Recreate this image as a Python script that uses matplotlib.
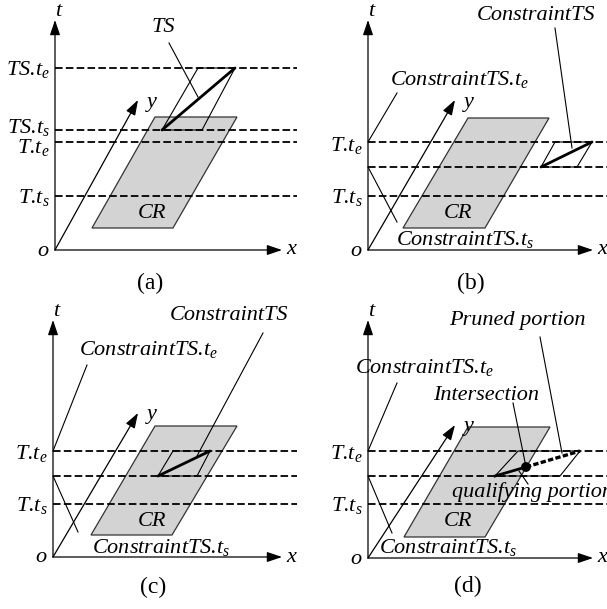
import matplotlib
matplotlib.use('Agg')
import matplotlib.pyplot as plt
from matplotlib.patches import Polygon, Circle

plt.rcParams['font.family'] = 'Liberation Serif'
plt.rcParams['mathtext.fontset'] = 'custom'
plt.rcParams['mathtext.it'] = 'Liberation Serif:italic'
plt.rcParams['mathtext.rm'] = 'Liberation Serif'

# --- geometry of the four panels (pixel space, y grows downward) ---
origins = [(55, 250), (368, 250), (53, 557), (368, 558)]
t_tips = [(55, 20), (368, 20), (53, 320), (368, 320)]
x_tips = [(282, 250), (593, 250), (282, 557), (593, 558)]
y_tips = [(138, 100), (455, 100), (138, 413), (455, 425)]
dash_end = [297, 607, 297, 607]
dash_levels = [[68, 130, 142, 196], [142, 167, 196], [451, 476, 504], [451, 476, 504]]
level_labels = [
    ['TS.t$_e$', 'TS.t$_s$', 'T.t$_e$', 'T.t$_s$'],
    ['T.t$_e$', None, 'T.t$_s$'],
    ['T.t$_e$', None, 'T.t$_s$'],
    ['T.t$_e$', None, 'T.t$_s$'],
]
label_shift = [[1, -3, 5, 1], [3, 0, 2], [3, 0, 2], [3, 0, 2]]
cr_regions = [
    [(92, 228), (173, 228), (237, 117), (155, 117)],
    [(403, 228), (485, 228), (549, 118), (468, 118)],
    [(91, 535), (172, 535), (237, 426), (155, 426)],
    [(404, 537), (485, 537), (550, 427), (468, 427)],
]
cr_label_pos = [(152, 214), (458, 213), (152, 522), (458, 522)]
ts_boxes = [
    [(162, 130), (202, 130), (235, 68), (198, 68)],
    [(541, 167), (577, 167), (592, 142), (555, 142)],
    [(158, 476), (197, 476), (210, 451), (173, 451)],
    [(495, 476), (560, 476), (580, 451), (518, 451)],
]
intersection = (526, 467)
panel_tags = ['(a)', '(b)', '(c)', '(d)']
tag_pos = [(150, 283), (471, 283), (153, 587), (468, 586)]

# callouts: text, text centre, leader start, leader end
callouts = [
    ('TS', (163, 28), (169, 43), (198, 97)),
    ('ConstraintTS', (536, 15), (555, 28), (572, 148)),
    ('ConstraintTS.t$_e$', (460, 80), (397, 93), (368, 142)),
    ('ConstraintTS.t$_s$', (465, 240), (368, 167), (397, 222)),
    ('ConstraintTS', (229, 315), (263, 333), (197, 456)),
    ('ConstraintTS.t$_e$', (149, 350), (87, 365), (53, 451)),
    ('ConstraintTS.t$_s$', (161, 547), (53, 476), (78, 532)),
    ('Pruned portion', (517, 320), (540, 337), (562, 453)),
    ('Intersection', (486, 395), (513, 403), (526, 467)),
    ('ConstraintTS.t$_e$', (425, 368), (397, 383), (368, 451)),
    ('ConstraintTS.t$_s$', (448, 547), (368, 476), (392, 533)),
]

FS = 16
DASH = (0, (4.2, 1.8))

fig = plt.figure(figsize=(6.07, 6.09), dpi=100)
ax = fig.add_axes([0, 0, 1, 1])
ax.set_xlim(0, 607)
ax.set_ylim(609, 0)
ax.axis('off')


def arrow(p0, p1):
    ax.annotate('', xy=p1, xytext=p0,
                arrowprops=dict(arrowstyle='-|>,head_length=0.65,head_width=0.22',
                                lw=0.9, color='k', mutation_scale=14,
                                shrinkA=0, shrinkB=0), zorder=5)


def itext(x, y, s, **kw):
    kw.setdefault('ha', 'center')
    kw.setdefault('va', 'center')
    return ax.text(x, y, s, fontsize=FS, style='italic', **kw)


for i in range(4):
    ox, oy = origins[i]
    # region CR
    ax.add_patch(Polygon(cr_regions[i], closed=True, facecolor='#d3d3d3',
                         edgecolor='#333333', lw=0.9, zorder=1))
    itext(*cr_label_pos[i], 'CR', zorder=6)

    # axes t, x, y
    arrow((ox, oy), t_tips[i])
    arrow((ox, oy), x_tips[i])
    arrow((ox, oy), y_tips[i])
    itext(t_tips[i][0] + 3, t_tips[i][1] - 8, 't')
    itext(x_tips[i][0] + 9, x_tips[i][1], 'x')
    itext(y_tips[i][0] + 14, y_tips[i][1] + 2, 'y')
    itext(ox - 12, oy + 1, 'o')

    # time levels
    for lvl, lab, dy in zip(dash_levels[i], level_labels[i], label_shift[i]):
        ax.plot([ox, dash_end[i]], [lvl, lvl], color='k', lw=1.3, linestyle=DASH, zorder=3)
        if lab:
            itext(ox - 5, lvl + dy, lab, ha='right')

    # trajectory segment box
    box = ts_boxes[i]
    ax.add_patch(Polygon(box, closed=True, fill=False, edgecolor='k', lw=0.8, zorder=4))
    if i < 3:
        ax.plot([box[0][0], box[2][0]], [box[0][1], box[2][1]], color='k', lw=2.0,
                solid_capstyle='round', zorder=5)
    else:
        ax.plot([box[0][0], intersection[0]], [box[0][1], intersection[1]], color='k',
                lw=2.0, zorder=5)
        ax.plot([intersection[0], box[2][0]], [intersection[1], box[2][1]], color='k',
                lw=2.4, linestyle=(0, (1.6, 0.7)), zorder=5)
        ax.add_patch(Circle(intersection, 4.2, color='k', zorder=6))

    ax.text(*tag_pos[i], panel_tags[i], fontsize=17, ha='center', va='center')

for txt, tpos, l0, l1 in callouts:
    itext(*tpos, txt, zorder=7)
    ax.plot([l0[0], l1[0]], [l0[1], l1[1]], color='k', lw=0.8, zorder=4)

# qualifying portion label runs off the right edge
itext(452, 492, 'qualifying portion', ha='left', zorder=7)
ax.plot([528, 519], [484, 471], color='k', lw=0.8, zorder=4)

fig.savefig('out.png', dpi=100)
